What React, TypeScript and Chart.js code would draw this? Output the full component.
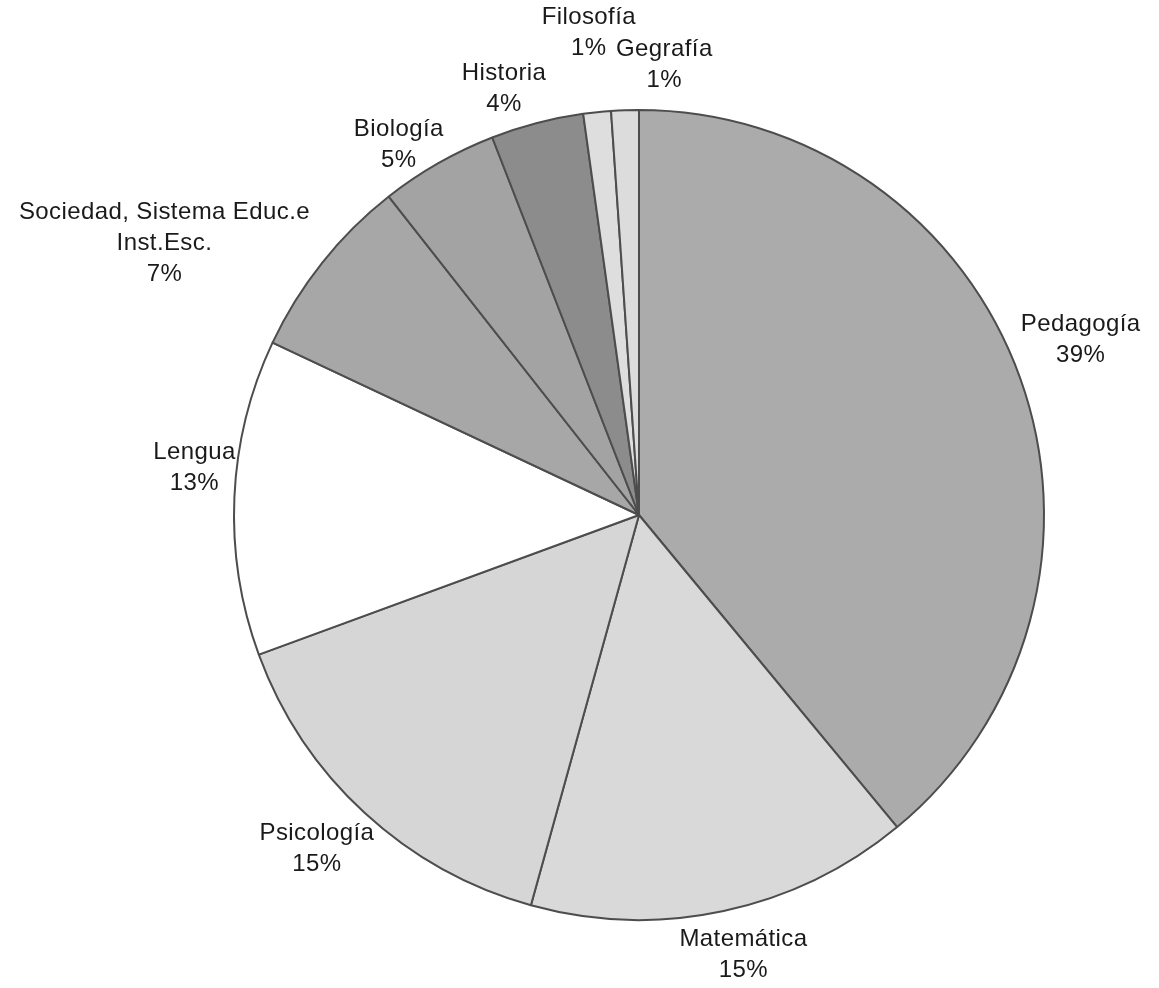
import React, { useEffect, useRef } from "react";
import { Chart, registerables } from "chart.js";

Chart.register(...registerables);

// ---- Data ----
const categories: string[][] = [
  ["Pedagogía"],
  ["Matemática"],
  ["Psicología"],
  ["Lengua"],
  ["Sociedad, Sistema Educ.e", "Inst.Esc."],
  ["Biología"],
  ["Historia"],
  ["Filosofía"],
  ["Gegrafía"],
];
const values: number[] = [39.0, 15.3, 15.1, 12.6, 7.4, 4.7, 3.7, 1.1, 1.1];

// ---- Styles ----
const sliceColors = [
  "#ababab",
  "#d9d9d9",
  "#d6d6d6",
  "#ffffff",
  "#a7a7a7",
  "#a3a3a3",
  "#8c8c8c",
  "#dedede",
  "#dcdcdc",
];
// label placement: extra distance beyond the rim (px) and angular nudge (deg, clockwise)
const labelGap = [70, 47, 59, 42, 142, 36, 42, 80, 46];
const labelShift = [-1.8, -1.3, 1.3, 3.5, -8.7, -3.3, -3, 0, 5.2];
const FONT_SIZE = 24;
const LINE_HEIGHT = 31;

const labelPlugin = {
  id: "outsideLabels",
  afterDatasetsDraw(chart: any) {
    const meta = chart.getDatasetMeta(0);
    const ctx = chart.ctx;
    const total = values.reduce((a, b) => a + b, 0);
    ctx.save();
    ctx.font = `${FONT_SIZE}px "Liberation Sans", Arial, sans-serif`;
    try {
      (ctx as any).letterSpacing = "0.4px";
    } catch (e) {}
    ctx.fillStyle = "#1a1a1a";
    ctx.textAlign = "center";
    ctx.textBaseline = "middle";
    meta.data.forEach((arc: any, i: number) => {
      const p = arc.getProps(["x", "y", "startAngle", "endAngle", "outerRadius"], true);
      const mid = (p.startAngle + p.endAngle) / 2 + (labelShift[i] * Math.PI) / 180;
      const d = p.outerRadius + labelGap[i];
      const cx = p.x + d * Math.cos(mid);
      const cy = p.y + d * Math.sin(mid);
      const lines = [...categories[i], Math.round((values[i] / total) * 100) + "%"];
      lines.forEach((t, k) => {
        ctx.fillText(t, cx, cy + (k - (lines.length - 1) / 2) * LINE_HEIGHT);
      });
    });
    ctx.restore();
  },
};

export default function App() {
  const ref = useRef<HTMLCanvasElement | null>(null);
  useEffect(() => {
    if (!ref.current) return;
    const chart = new Chart(ref.current, {
      type: "pie",
      data: {
        labels: categories.map((c) => c.join(" ")),
        datasets: [
          {
            data: values,
            backgroundColor: sliceColors,
            borderColor: "#4d4d4d",
            borderWidth: 2,
            hoverOffset: 0,
            offset: 0,
          },
        ],
      },
      options: {
        responsive: false,
        animation: false,
        layout: { padding: { left: 233, right: 114, top: 109, bottom: 67 } },
        plugins: {
          legend: { display: false },
          tooltip: { enabled: false },
        },
      },
      plugins: [labelPlugin],
    });
    return () => chart.destroy();
  }, []);
  return (
    <div style={{ position: "absolute", left: 0, top: 0, width: 1159, height: 988, background: "#fff" }}>
      <canvas ref={ref} width={1159} height={988} />
    </div>
  );
}
